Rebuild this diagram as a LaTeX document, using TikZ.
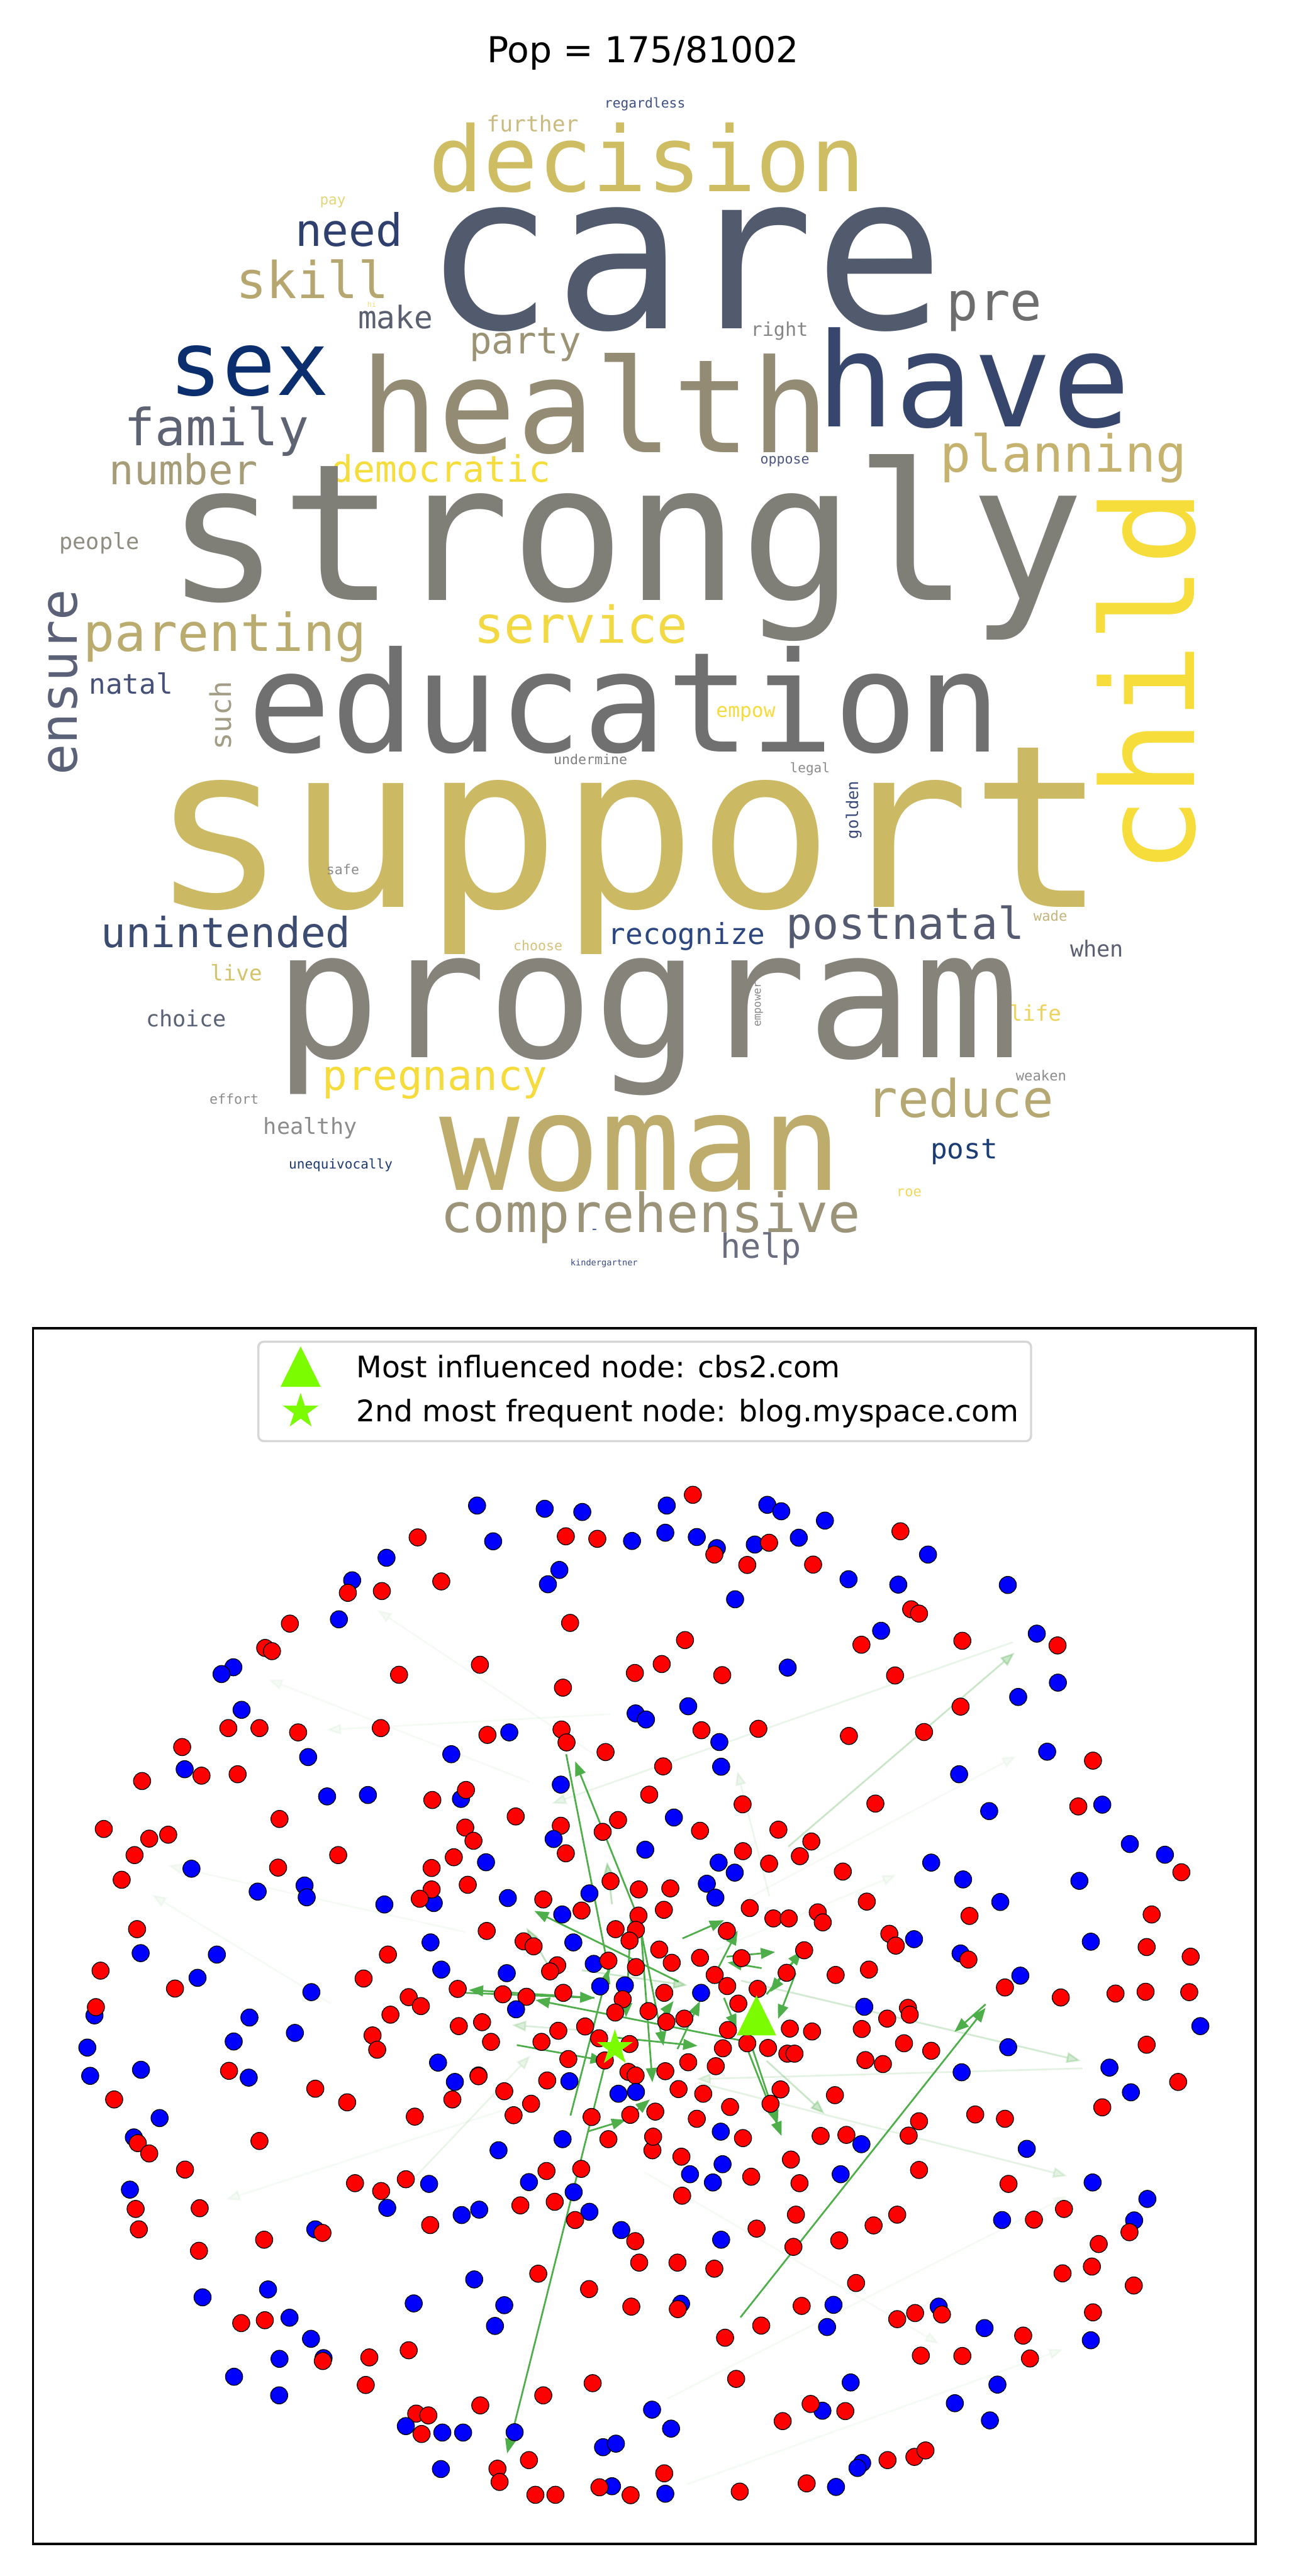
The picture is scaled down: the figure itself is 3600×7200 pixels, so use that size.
\documentclass[tikz,border=0pt]{standalone}
\usepackage{fontspec}
\setmainfont{DejaVu Sans}
\newfontfamily\wcfont{DejaVu Sans Mono}
\usetikzlibrary{arrows.meta,shapes.geometric}
\definecolor{R}{RGB}{255,0,0}
\definecolor{B}{RGB}{0,0,255}
\definecolor{eg}{RGB}{78,174,74}
\definecolor{lg}{RGB}{124,252,0}
\definecolor{legedge}{RGB}{214,214,214}
\newcommand\wcword[6]{\node[wd,rotate=#6] (#1) at (#2) {\fontsize{#3}{#3}\selectfont\color[HTML]{#4}#5};}
\begin{document}
\begin{tikzpicture}[x=0.5pt,y=-0.5pt,
  wd/.style={anchor=base,inner sep=0pt,outer sep=0pt,font=\wcfont},
  dot/.style={circle,draw=black,line width=1.1pt,minimum size=24pt,inner sep=0pt},
  arrS/.style={draw=eg,line width=2.4pt,-{Triangle[length=20pt,width=15pt]}},
  arrF/.style={draw=eg,line width=2.4pt,-{Triangle[length=20pt,width=15pt]}},
  lgtext/.style={anchor=base west,inner sep=0pt,font=\fontsize{41.5pt}{41.5pt}\selectfont}]
\useasboundingbox (0,0) rectangle (3600,7200);
\fill[white] (0,0) rectangle (3600,7200);
% ---------- title ----------
\node[anchor=base,inner sep=0pt,font=\fontsize{50pt}{50pt}\selectfont] (title) at (1797,175) {Pop = 175/81002};
% ---------- word cloud ----------
\wcword{wregardless}{1802,301}{18.75pt}{3E5082}{regardless}{0}
\wcword{wfurther}{1488,369}{30.5pt}{C9BB80}{further}{0}
\wcword{wdecision}{1808,535}{126.5pt}{CEBD62}{decision}{0}
\wcword{wpay}{930,572}{20pt}{E5D57A}{pay}{0}
\wcword{wcare}{1912,919}{302.5pt}{525A6E}{care}{0}
\wcword{wneed}{975,689}{62.5pt}{2F3F6E}{need}{0}
\wcword{wskill}{873,834}{71pt}{B6A770}{skill}{0}
\wcword{whi}{1039,858}{10pt}{F0E070}{hi}{0}
\wcword{wmake}{1105,919}{43.5pt}{5B6071}{make}{0}
\wcword{wpre}{2778,896}{74pt}{6E6E6E}{pre}{0}
\wcword{wright}{2178,939}{26.5pt}{858585}{right}{0}
\wcword{wparty}{1468,989}{52pt}{9B9374}{party}{0}
\wcword{wsex}{696,1104}{124pt}{0B2F6E}{sex}{0}
\wcword{whealth}{1662,1264}{181.5pt}{938B73}{health}{0}
\wcword{whave}{2721,1193}{182.5pt}{37466C}{have}{0}
\wcword{wfamily}{605,1246}{71.5pt}{5E6374}{family}{0}
\wcword{woppose}{2193,1297}{19pt}{4A5580}{oppose}{0}
\wcword{wplanning}{2971,1320}{71.5pt}{C4B26E}{planning}{0}
\wcword{wnumber}{513,1355}{57.5pt}{A69D78}{number}{0}
\wcword{wdemocratic}{1232,1348}{51pt}{F5DD3D}{democratic}{0}
\wcword{wstrongly}{1747,1677}{266.5pt}{7F7E77}{strongly}{0}
\wcword{wpeople}{278,1536}{31pt}{8F8C80}{people}{0}
\wcword{wparenting}{628,1820}{73pt}{BAAB6E}{parenting}{0}
\wcword{wservice}{1623,1797}{71pt}{F2D944}{service}{0}
\wcword{wnatal}{366,1939}{39pt}{465179}{natal}{0}
\wcword{weducation}{1745,2101}{194.5pt}{707070}{education}{0}
\wcword{wempow}{2084,2005}{27.5pt}{F5DC3C}{empow}{0}
\wcword{wundermine}{1650,2137}{19pt}{808080}{undermine}{0}
\wcword{wlegal}{2263,2159}{18.5pt}{8C8C8C}{legal}{0}
\wcword{wsupport}{1757,2535}{317pt}{CCB963}{support}{0}
\wcword{wsafe}{958,2444}{19pt}{8C8C8C}{safe}{0}
\wcword{wunintended}{631,2648}{58pt}{3C4B70}{unintended}{0}
\wcword{wrecognize}{1919,2640}{40.5pt}{2C4680}{recognize}{0}
\wcword{wpostnatal}{2529,2626}{61.5pt}{545A6F}{postnatal}{0}
\wcword{wchoose}{1503,2657}{19pt}{D4C37A}{choose}{0}
\wcword{wwade}{2935,2575}{19.5pt}{C4B47A}{wade}{0}
\wcword{wwhen}{3065,2674}{31pt}{5A6070}{when}{0}
\wcword{wlive}{660,2742}{30pt}{D4C36A}{live}{0}
\wcword{wchoice}{520,2870}{31pt}{5A6275}{choice}{0}
\wcword{wlife}{2893,2854}{30pt}{EED35A}{life}{0}
\wcword{wprogram}{1808,2956}{247.5pt}{86837A}{program}{0}
\wcword{wweaken}{2909,3020}{19.5pt}{8C8C8C}{weaken}{0}
\wcword{wpregnancy}{1216,3047}{58pt}{F5DC3C}{pregnancy}{0}
\wcword{weffort}{654,3085}{19pt}{8C8C8C}{effort}{0}
\wcword{wreduce}{2683,3122}{72.5pt}{B5A873}{reduce}{0}
\wcword{whealthy}{867,3171}{31pt}{8C8C8C}{healthy}{0}
\wcword{wpost}{2694,3238}{39pt}{1C3C76}{post}{0}
\wcword{wunequivocally}{952,3267}{18.5pt}{1E3A6E}{unequivocally}{0}
\wcword{wwoman}{1790,3327}{187pt}{BDAC6C}{woman}{0}
\wcword{wroe}{2540,3344}{19.5pt}{F0D860}{roe}{0}
\wcword{wcomprehensive}{1818,3444}{75pt}{9B9479}{comprehensive}{0}
\wcword{wdash}{1661,3448}{20pt}{2A4A8A}{-}{0}
\wcword{whelp}{2126,3516}{47pt}{6A6E7E}{help}{0}
\wcword{wkindergartner}{1688,3537}{12pt}{3A4A8A}{kindergartner}{0}
\wcword{wensure}{216,1907}{72pt}{5B6176}{ensure}{90}
\wcword{wsuch}{646,2000}{40pt}{A39D86}{such}{90}
\wcword{wchild}{3338,1905}{179pt}{F7DD3B}{child}{90}
\wcword{wgolden}{2398,2264}{22.5pt}{3A4A7A}{golden}{90}
\wcword{wempower}{2126,2807}{15pt}{8C8C8C}{empower}{90}
% ---------- network: faint edges ----------
\foreach[count=\i] \ax/\ay/\bx/\by/\op in {
 2830/4590/1542/5041/0.12, 2203/5161/2835/4619/0.3, 2071/5536/3020/5760/0.25,
 3025/5781/1946/5811/0.15, 1952/5821/2982/6082/0.15, 2142/5760/2304/5908/0.3,
 1710/5322/1696/5204/0.35, 1626/5507/1921/5549/0.3, 1705/4791/913/4835/0.06,
 924/5600/425/5296/0.06, 1480/4980/750/4694/0.05, 1700/4930/1054/4500/0.05,
 1300/5400/469/5214/0.05, 1400/5900/631/6148/0.06, 1163/6082/1482/5745/0.12,
 1800/6071/2624/6551/0.05, 1919/6944/2971/6566/0.06, 1865/6704/2982/6138/0.05,
 2000/5450/2505/5240/0.06, 2100/5300/2840/4908/0.05, 2150/5300/2060/4950/0.1,
 1553/5530/1471/5388/0.35, 1700/5680/1430/5660/0.2}
 {\coordinate (fs\i) at (\ax,\ay); \coordinate (ft\i) at (\bx,\by);
  \draw[arrF,opacity=\op] (fs\i) -- (ft\i);}
% ---------- network: strong edges ----------
\foreach[count=\i] \ax/\ay/\bx/\by in {
 1582/4903/1703/5517, 1775/5340/1607/4923, 1907/5418/2023/5367, 2030/5469/2166/5456,
 2128/5501/2033/5485, 2002/5510/2061/5396, 2223/5515/2174/5643, 2142/5574/2240/5453,
 2240/5453/2152/5568, 2023/5584/2058/5670, 2086/5721/2184/5970, 2100/5718/2173/5938,
 1893/5727/1956/5593, 1298/5570/1661/5584, 1661/5584/1310/5562, 2065/5702/1496/5590,
 1896/5539/1493/5341, 1791/5396/1823/5820, 1791/5396/1854/5718, 1763/5364/1749/5638,
 1594/5913/1700/5504, 1644/5957/1749/5925, 1763/5912/1816/5868, 1837/5651/1882/5593,
 1694/5755/1417/6857, 2069/6477/2754/5612, 2754/5602/2667/5679, 1444/5716/1690/5760,
 1721/5695/1949/5718}
 {\coordinate (ss\i) at (\ax,\ay); \coordinate (st\i) at (\bx,\by);
  \draw[arrS] (ss\i) -- (st\i);}
% ---------- network: nodes ----------
\foreach[count=\i] \px/\py/\pc in {
1333/4208/B,1522/4217/B,1627/4226/B,1167/4297/R,1378/4308/B,1581/4294/R,1669/4301/R,1766/4307/B,
1080/4354/B,1563/4388/B,1531/4428/B,984/4417/B,972/4452/R,1067/4447/R,1233/4420/R,1593/4536/R,
947/4526/B,810/4538/R,741/4606/R,760/4615/R,652/4660/B,619/4679/B,1115/4681/R,1341/4653/R,
1774/4676/R,1573/4717/R,675/4779/B,1776/4789/B,638/4830/R,725/4830/R,833/4842/R,1064/4830/R,
1362/4849/R,1423/4842/B,1569/4834/R,1583/4870/R,509/4883/R,516/4945/B,563/4963/R,664/4959/R,
397/4978/R,861/4911/B,1261/4903/B,1692/4897/R,914/5021/B,1028/5017/B,1208/5031/R,1288/5028/B,
1302/5003/R,1567/4988/B,781/5084/R,290/5112/R,417/5139/R,470/5128/R,376/5185/R,340/5254/R,
535/5223/B,777/5220/R,945/5185/R,851/5270/B,857/5303/B,720/5287/B,1300/5108/R,1268/5191/R,
1206/5221/R,1212/5319/B,1206/5281/R,1173/5307/R,1074/5323/B,383/5392/R,393/5459/B,606/5463/B,
1084/5463/R,1203/5429/B}
 {\node[dot,fill=\pc] (na\i) at (\px,\py) {};}
\foreach[count=\i] \px/\py/\pc in {
1863/4208/B,1936/4178/R,1859/4284/B,1947/4296/B,2003/4327/B,1996/4345/R,2088/4374/R,2109/4317/B,
2149/4312/R,2144/4206/B,2183/4224/B,2232/4298/B,2305/4250/B,2272/4373/R,2054/4470/B,2516/4280/R,
2593/4345/B,2371/4414/B,2510/4429/B,2816/4430/B,2546/4498/R,2568/4510/R,2462/4558/B,2407/4597/R,
2689/4586/R,2897/4566/B,2955/4599/R,1914/4584/R,1849/4651/R,2018/4682/R,2201/4661/B,2501/4683/R,
2956/4703/B,2845/4743/B,2684/4770/R,1923/4769/B,1805/4806/B,1960/4836/R,2010/4869/B,2119/4832/R,
2372/4852/R,2582/4841/R,1853/4937/R,2015/4938/B,2926/4896/B,3054/4921/R,2680/4959/B,2446/5041/R,
2764/5062/B,3013/5049/R,3080/5044/B,2602/5206/B,2691/5253/B,3016/5257/B,3157/5154/B,3255/5184/B,
3301/5233/R,2422/5315/R,2795/5316/B,2709/5355/R,3218/5351/R,2485/5405/R,2503/5438/R,2554/5420/B,
2684/5460/B,2706/5477/R,3048/5427/B,3204/5442/R,3327/5469/R}
 {\node[dot,fill=\pc] (nb\i) at (\px,\py) {};}
\foreach[count=\i] \px/\py/\pc in {
281/5508/R,552/5528/B,489/5558/R,264/5633/B,268/5610/R,244/5723/B,252/5802/B,394/5785/B,
319/5868/R,446/5920/B,374/5974/B,385/5990/R,417/6019/R,517/6064/R,363/6120/B,379/6174/R,
388/6231/R,558/6172/R,556/6291/R,725/5984/R,697/5639/B,653/5706/B,640/5788/R,695/5807/B,
870/5568/B,824/5682/B,881/5838/R,970/5876/R,1016/5530/R,1091/5631/R,1142/5582/R,1176/5607/R,
1041/5689/R,1054/5729/R,1159/5916/R,1224/5765/B,1271/5819/B,1264/5868/R,1337/5801/R,1233/5505/B,
1279/5559/R,1282/5663/R,1393/6010/B,992/6102/R,1065/6124/R,1134/6091/R,1199/6104/B,1082/6171/B,
1202/6219/R,1290/6191/B,1339/6176/B,881/6231/B,901/6241/R,738/6260/R,1478/6099/B,1527/6068/R,
1624/6062/R,1603/6127/B,1454/6164/R,1550/6154/R,1647/6182/B,1607/6205/R,1736/6233/B,1775/6264/R,
1786/6324/R,1504/6355/R,1646/6398/R,1764/6447/R,1325/6371/B,1409/6443/B,1383/6501/B,1156/6438/B,
566/6421/B,749/6399/B,674/6493/R,740/6485/R,809/6478/B,869/6537/B,781/6593/B,904/6591/B,
902/6599/R,1032/6589/R,1142/6569/R,654/6643/B,780/6695/B,1022/6666/R,1342/6723/R,1518/6695/R,
1656/6661/R,1163/6746/R,1197/6751/R,1134/6781/B,1178/6803/R,1236/6799/B,1294/6799/B,1438/6798/B,
1478/6876/R,1232/6901/B,1390/6900/R,1396/6937/R,1496/6973/R,1552/6973/R,1685/6840/B,1721/6830/B,
1710/6949/B,1675/6952/R,1762/6974/R}
 {\node[dot,fill=\pc] (nc\i) at (\px,\py) {};}
\foreach[count=\i] \px/\py/\pc in {
2428/5505/R,2808/5555/R,2851/5522/B,2964/5583/R,3117/5572/R,3201/5567/R,3323/5568/R,3354/5663/B,
3204/5715/R,3100/5779/B,3160/5848/B,3292/5819/R,3080/5890/R,2817/5722/B,2687/5792/B,2415/5609/B,
2537/5612/R,2542/5631/R,2479/5642/R,2408/5671/R,2526/5711/R,2602/5732/R,2418/5758/R,2467/5769/R,
2725/5910/R,2808/5922/R,2568/5929/R,2539/5969/R,2869/6006/B,2568/6065/R,2818/6104/R,3053/6100/B,
3206/6146/B,2973/6174/R,3169/6206/B,3156/6239/R,3070/6272/R,3051/6335/R,2969/6354/R,3168/6388/R,
3054/6463/R,3048/6541/B,2800/6205/B,2889/6204/R,2507/6190/R,2441/6220/R,2407/5993/B,2349/6077/B,
2210/6036/R,2234/6102/R,2099/6084/R,2019/6049/B,1992/6100/B,1928/6077/B,1904/6028/R,1906/6137/R,
2224/6190/R,2114/6229/R,2015/6260/B,2345/6262/R,2217/6280/R,1893/6324/R,1996/6341/R,2392/6381/R,
1903/6439/B,1894/6454/R,2240/6445/R,2329/6442/B,2311/6504/B,2127/6500/R,2026/6534/R,2507/6482/R,
2557/6465/R,2623/6447/B,2632/6469/R,2751/6507/B,2859/6528/R,2878/6592/R,2573/6584/R,2689/6585/R,
2377/6659/B,2057/6649/R,2787/6665/B,2668/6717/B,2766/6765/B,2298/6738/B,2265/6719/R,2362/6739/R,
2187/6767/R,1822/6735/B,1875/6788/B,1856/6913/R,1859/6970/B,2067/6964/R,2254/6941/R,2336/6951/B,
2409/6884/B,2396/6898/B,2480/6876/R,2555/6867/R,2586/6849/R,1823/6010/R}
 {\node[dot,fill=\pc] (nd\i) at (\px,\py) {};}
\foreach[count=\i] \px/\py/\pc in {
1814/5016/R,2075/5043/R,1441/5077/R,1727/5087/R,1684/5120/R,1883/5080/B,1956/5117/R,2175/5114/R,
1567/5103/R,1547/5140/B,1581/5180/R,1323/5145/R,1803/5170/B,2076/5174/R,2267/5147/R,2235/5188/R,
2149/5209/R,2008/5206/B,2053/5234/B,2355/5231/R,1358/5205/B,1307/5268/R,1419/5305/B,1518/5309/R,
1647/5292/B,1706/5258/R,1785/5281/R,1873/5278/R,1975/5265/B,1999/5304/B,2095/5333/R,2161/5362/R,
2204/5362/R,2285/5345/R,2299/5373/R,1855/5338/R,1360/5397/R,1571/5351/B,1625/5340/R,1784/5354/R,
1720/5392/R,1777/5394/R,1759/5424/R,1602/5429/B,1463/5426/R,1491/5440/R,2031/5397/R,1842/5449/R,
1956/5472/R,1877/5486/R,2072/5473/R,2247/5451/R,2335/5520/R,2198/5514/R,1416/5515/B,1557/5493/R,
1537/5510/R,1659/5489/B,1700/5480/R,1777/5498/R,1997/5520/R,1677/5552/B,1746/5549/B,2032/5551/R,
2117/5559/R,1959/5570/B,1856/5570/R,1405/5574/R,1471/5581/R,1574/5570/R,1442/5616/B,2063/5600/R,
1740/5588/R,1719/5625/R,1812/5621/R,1862/5651/R,1912/5642/R,1347/5652/R,1635/5664/R,1560/5676/R,
1372/5707/R,1513/5707/R,1674/5697/R,1759/5713/R,2034/5674/R,2207/5670/R,2269/5678/R,1588/5755/R,
1690/5759/R,2020/5725/R,2088/5711/R,2146/5724/R,2200/5740/R,2220/5740/R,1923/5764/R,2000/5775/R,
1756/5791/R,1776/5801/R,1859/5789/R,1337/5803/R,1529/5815/R,1591/5817/B,1409/5845/R,1484/5880/R,
1435/5912/R,1728/5852/B,1777/5847/B,1896/5839/R,1965/5852/R,2181/5840/R,2333/5856/R,2040/5889/R,
2153/5880/R,1653/5917/R,1761/5911/R,1831/5902/R,1947/5922/R,2014/5958/B,2076/5976/R,2293/5970/R,
2365/5967/R,1572/5979/B,1700/5979/R,1825/5972/R}
 {\node[dot,fill=\pc] (ne\i) at (\px,\py) {};}
% ---------- highlighted nodes ----------
\coordinate (tri) at (2114,5633);
\fill[lg] (2114,5577) -- (2169,5689) -- (2059,5689) -- cycle;
\node[star,star points=5,star point ratio=2.618,minimum size=52pt,inner sep=0pt,fill=lg] (mstar) at (1718,5724) {};
% ---------- axes frame ----------
\draw[line width=3.2pt] (92,3712) rectangle (3508,7110);
% ---------- legend ----------
\draw[draw=legedge,line width=3pt,fill=white,fill opacity=0.8,rounded corners=7.5pt] (722,3750) rectangle (2881,4028);
\coordinate (ltri) at (840,3820);
\fill[lg] (840,3763) -- (896,3876) -- (784,3876) -- cycle;
\node[star,star points=5,star point ratio=2.618,minimum size=52pt,inner sep=0pt,fill=lg] (lstar) at (840,3945) {};
\node[lgtext] (l1) at (995,3850) {Most influenced node: cbs2.com};
\node[lgtext] (l2) at (995,3973) {2nd most frequent node: blog.myspace.com};
\end{tikzpicture}
\end{document}
